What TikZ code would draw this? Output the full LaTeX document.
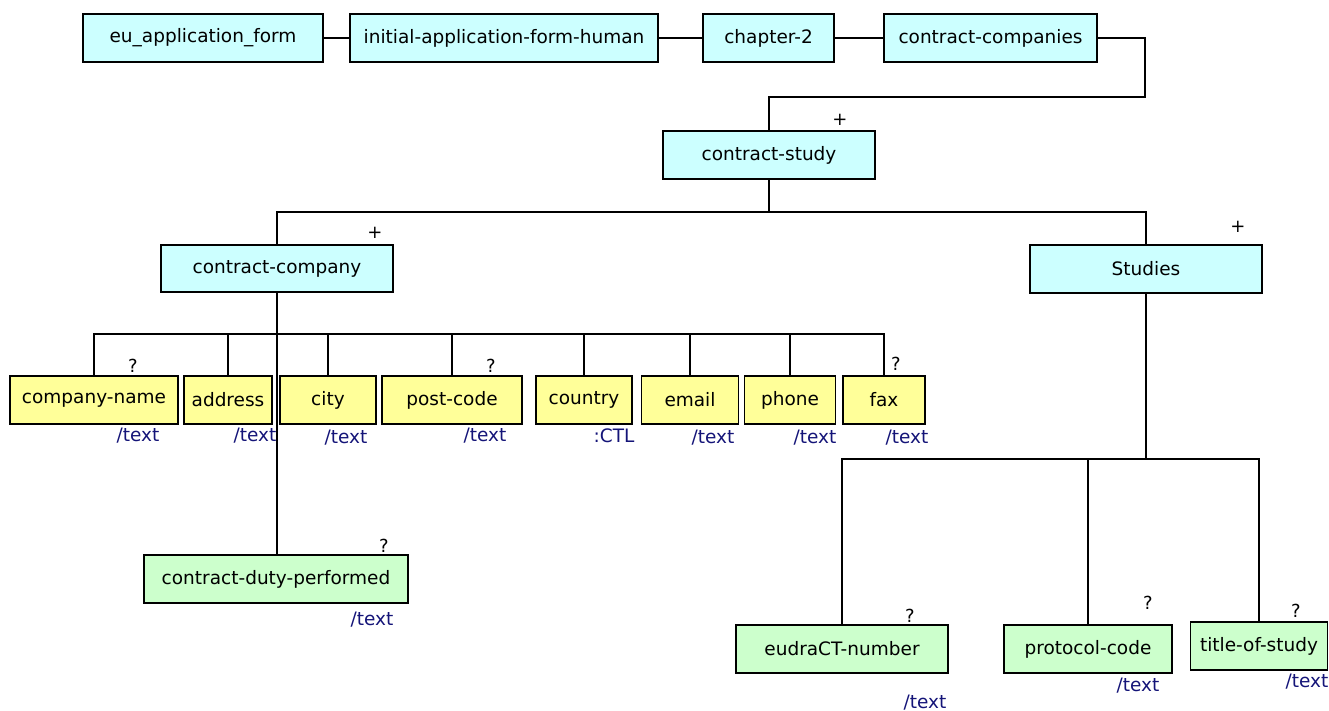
\documentclass[tikz,border=0pt]{standalone}
\usepackage{fontspec}
\setmainfont{DejaVu Sans}
\definecolor{cfill}{RGB}{204,255,255}
\definecolor{yfill}{RGB}{255,255,153}
\definecolor{gfill}{RGB}{204,255,204}
\definecolor{tblue}{RGB}{20,20,120}
\begin{document}
\begin{tikzpicture}[x=1pt,y=-1pt,
  box/.style={draw=black,line width=1.6pt,inner sep=0pt,font=\fontsize{18.5}{22}\selectfont,text=black},
  cbox/.style={box,fill=cfill},
  ybox/.style={box,fill=yfill},
  gbox/.style={box,fill=gfill},
  conn/.style={line width=1.5pt},
  multmark/.style={font=\fontsize{18}{21}\selectfont},
  tlab/.style={font=\fontsize{18.5}{22}\selectfont,text=tblue}]
\useasboundingbox (0,0) rectangle (1329,711);
% top row
\node[cbox,minimum width=240pt,minimum height=48pt] (eu) at (203,38) {eu\_application\_form};
\node[cbox,minimum width=308pt,minimum height=48pt] (iafh) at (504,38) {initial-application-form-human};
\node[cbox,minimum width=131pt,minimum height=48pt] (ch2) at (768.5,38) {chapter-2};
\node[cbox,minimum width=213pt,minimum height=48pt] (cc) at (990.5,38) {contract-companies};
\node[cbox,minimum width=212pt,minimum height=48pt] (cs) at (769,155) {contract-study};
\node[cbox,minimum width=232pt,minimum height=47pt] (ccomp) at (277,268.5) {contract-company};
\node[cbox,minimum width=232pt,minimum height=48pt] (studies) at (1146,269) {Studies};
% yellow children
\node[ybox,minimum width=168pt,minimum height=48pt] (cname) at (94,400) {company-name};
\node[ybox,minimum width=88pt,minimum height=48pt] (addr) at (228,400) {address};
\node[ybox,minimum width=96pt,minimum height=48pt] (city) at (328,400) {city};
\node[ybox,minimum width=140pt,minimum height=48pt] (pc) at (452,400) {post-code};
\node[ybox,minimum width=96pt,minimum height=48pt] (country) at (584,400) {country};
\node[ybox,minimum width=97pt,minimum height=48pt] (email) at (690,400) {email};
\node[ybox,minimum width=91pt,minimum height=48pt] (phone) at (790,400) {phone};
\node[ybox,minimum width=82pt,minimum height=48pt] (fax) at (884,400) {fax};
% green
\node[gbox,minimum width=264pt,minimum height=48pt] (cdp) at (276,579) {contract-duty-performed};
\node[gbox,minimum width=212pt,minimum height=48pt] (eudra) at (842,649) {eudraCT-number};
\node[gbox,minimum width=168pt,minimum height=48pt] (proto) at (1088,649) {protocol-code};
\node[gbox,minimum width=137pt,minimum height=48pt] (title) at (1259,646) {title-of-study};
% connectors
\draw[conn] (eu) -- (iafh);
\draw[conn] (iafh) -- (ch2);
\draw[conn] (ch2) -- (cc);
\draw[conn] (cc.east) -| (1145,97) -| (cs.north);
\coordinate (j1) at (769,212);
\draw[conn] (cs.south) -- (j1) -| (ccomp.north);
\draw[conn] (j1) -| (studies.north);
\coordinate (j2) at (277,334);
\draw[conn] (ccomp.south) -- (j2);
\foreach \c in {cname,addr,city,pc,country,email,phone,fax}
  \draw[conn] (j2) -| (\c.north);
\draw[line width=2.2pt] (ccomp.south) -- (cdp.north -| ccomp.south);
\coordinate (j3) at (1146,459);
\draw[conn] (studies.south) -- (j3);
\draw[conn] (j3) -| (eudra.north);
\draw[conn] (j3) -| (proto.north);
\draw[conn] (j3) -| (title.north);
% multiplicity marks
\node[multmark] at (840,120) {+};
\node[multmark] at (375,233) {+};
\node[multmark] at (1238,227) {+};
\node[multmark] at (133,366) {?};
\node[multmark] at (491,366) {?};
\node[multmark] at (896,364) {?};
\node[multmark] at (384,546) {?};
\node[multmark] at (910,616) {?};
\node[multmark] at (1148,603) {?};
\node[multmark] at (1296,611) {?};
% type labels
\node[tlab] at (138,436) {/text};
\node[tlab] at (255,436) {/text};
\node[tlab] at (346,438) {/text};
\node[tlab] at (485,436) {/text};
\node[tlab] at (614,436) {:CTL};
\node[tlab] at (713,438) {/text};
\node[tlab] at (815,438) {/text};
\node[tlab] at (907,438) {/text};
\node[tlab] at (372,620) {/text};
\node[tlab] at (925,703) {/text};
\node[tlab] at (1138,686) {/text};
\node[tlab] at (1307,682) {/text};
\end{tikzpicture}
\end{document}
